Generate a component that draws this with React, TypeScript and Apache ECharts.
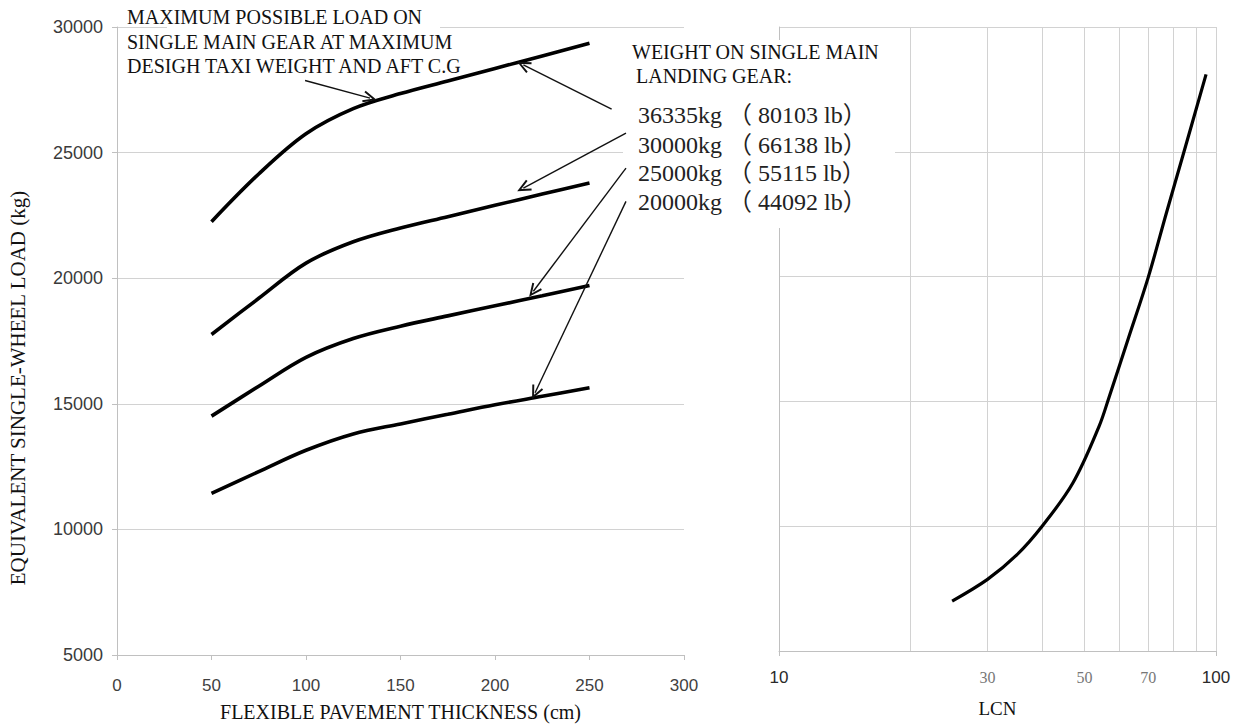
import React, { useEffect, useRef } from "react";
import * as echarts from "echarts";

// ---------- data ----------
const thickness = [50, 75, 100, 125, 150, 175, 200, 225, 250];
const load36335 = [22250, 24150, 25750, 26750, 27350, 27850, 28350, 28850, 29350];
const load30000 = [17760, 19200, 20600, 21450, 22000, 22450, 22900, 23350, 23790];
const load25000 = [14510, 15700, 16850, 17600, 18090, 18500, 18900, 19300, 19710];
const load20000 = [11430, 12300, 13150, 13800, 14200, 14580, 14960, 15300, 15640];

const lcnValues = [24.9, 30, 35, 40, 47, 54, 57, 63, 70, 77, 84, 94.9];
const lcnLoad = [7000, 7870, 8850, 10000, 11720, 14000, 15200, 17520, 19980, 22550, 24850, 28100];

const lcnGridLines = [20, 30, 40, 50, 60, 70, 80, 90, 100];
const lcnTickLabels = [10, 30, 50, 70, 100];

const annotationLines = [
  "MAXIMUM POSSIBLE LOAD ON",
  "SINGLE MAIN GEAR AT MAXIMUM",
  "DESIGH TAXI WEIGHT AND AFT C.G",
];
const legendHeader = ["WEIGHT ON SINGLE MAIN", "LANDING GEAR:"];
const legendRows = [
  "36335kg （ 80103 lb）",
  "30000kg （ 66138 lb）",
  "25000kg （ 55115 lb）",
  "20000kg （ 44092 lb）",
];

// arrows in data coordinates [thickness, load]
const arrowFrom = [
  [99.5, 27870],
  [261.7, 26730],
  [269.3, 25775],
  [269.3, 24385],
  [269.3, 23060],
];
const arrowTo = [
  [133.9, 27170],
  [215.0, 28490],
  [215.0, 23590],
  [220.3, 19480],
  [221.2, 15440],
];

const SERIF = "'Liberation Serif', 'Times New Roman', 'Noto Sans CJK SC', serif";
const SANS = "'Liberation Sans', Arial, sans-serif";
const AXIS_GRAY = "#c0c0c0";
const GRID_GRAY = "#d2d2d2";
const ARROW_PATH = "path://M6,0 L12,13 L10.2,13.8 L6,4.6 L1.8,13.8 L0,13 Z";

export default function App() {
  const ref = useRef<HTMLDivElement>(null);

  useEffect(() => {
    if (!ref.current) return;
    const chart = echarts.init(ref.current, undefined, { renderer: "svg" });

    const curve = (ys: number[]) => thickness.map((x, i) => [x, ys[i]]);
    const lineBase = {
      type: "line",
      xAxisIndex: 0,
      yAxisIndex: 0,
      smooth: 0.35,
      symbol: "none",
      showSymbol: false,
      silent: true,
      z: 3,
      lineStyle: { color: "#000", width: 3.6 },
    };

    const graphics: any[] = [
      { type: "rect", z: 1, shape: { x: 167, y: 20, width: 273, height: 14 }, style: { fill: "#fff" } },
      { type: "rect", z: 1, shape: { x: 623, y: 40, width: 272, height: 188 }, style: { fill: "#fff" } },
    ];
    annotationLines.forEach((t, i) => {
      graphics.push({
        type: "text", z: 10, x: 127, y: 17 + i * 24.5,
        style: { text: t, font: `20px ${SERIF}`, fill: "#111", verticalAlign: "middle", align: "left" },
      });
    });
    legendHeader.forEach((t, i) => {
      graphics.push({
        type: "text", z: 10, x: i === 0 ? 632 : 636, y: 52 + i * 24,
        style: { text: t, font: `20px ${SERIF}`, fill: "#111", verticalAlign: "middle", align: "left" },
      });
    });
    const rowY = [115, 145, 173, 202];
    legendRows.forEach((t, i) => {
      graphics.push({
        type: "text", z: 10, x: 638, y: rowY[i],
        style: { text: t, font: `24px ${SERIF}`, fill: "#222", verticalAlign: "middle", align: "left" },
      });
    });
    graphics.push({
      type: "text", z: 10, x: 18, y: 388, rotation: Math.PI / 2,
      style: {
        text: "EQUIVALENT SINGLE-WHEEL LOAD (kg)", font: `21px ${SERIF}`, fill: "#111",
        verticalAlign: "middle", align: "center",
      },
    });

    chart.setOption({
      animation: false,
      backgroundColor: "#fff",
      grid: [
        { left: 117, top: 27, width: 567, height: 629 },
        { left: 779, top: 27, width: 437, height: 624 },
      ],
      xAxis: [
        {
          type: "value", gridIndex: 0, min: 0, max: 300, interval: 50,
          axisLine: { show: true, lineStyle: { color: AXIS_GRAY } },
          axisTick: { show: true, length: 5, lineStyle: { color: AXIS_GRAY } },
          axisLabel: { margin: 22, fontSize: 17, color: "#3f3f3f", fontFamily: SANS },
          splitLine: { show: false },
          name: "FLEXIBLE PAVEMENT THICKNESS (cm)", nameLocation: "middle", nameGap: 47,
          nameTextStyle: { fontFamily: SERIF, fontSize: 20, color: "#111" },
        },
        {
          type: "log", gridIndex: 1, min: 10, max: 100, logBase: 10,
          axisLine: { show: true, lineStyle: { color: AXIS_GRAY } },
          axisTick: { show: true, length: 5, lineStyle: { color: AXIS_GRAY } },
          axisLabel: {
            margin: 18,
            customValues: lcnTickLabels,
            formatter: (v: number) => {
              const r = Math.round(v);
              return r === 10 || r === 100 ? `{a|${r}}` : `{b|${r}}`;
            },
            rich: {
              a: { fontFamily: SANS, fontSize: 17, color: "#2a2a2a" },
              b: { fontFamily: SERIF, fontSize: 16, color: "#777" },
            },
          },
          splitLine: { show: false },
          name: "LCN", nameLocation: "middle", nameGap: 48,
          nameTextStyle: { fontFamily: SERIF, fontSize: 19, color: "#111" },
        },
      ],
      yAxis: [
        {
          type: "value", gridIndex: 0, min: 5000, max: 30000, interval: 5000,
          axisLine: { show: true, lineStyle: { color: AXIS_GRAY } },
          axisTick: { show: true, length: 5, lineStyle: { color: AXIS_GRAY } },
          axisLabel: {
            margin: 14, fontSize: 18, color: "#3a3a3a", fontFamily: SANS,
            formatter: (v: number) => String(v),
          },
          splitLine: { show: true, lineStyle: { color: GRID_GRAY, width: 1 } },
        },
        {
          type: "value", gridIndex: 1, min: 5000, max: 30000, interval: 5000,
          axisLine: { show: true, lineStyle: { color: AXIS_GRAY } },
          axisTick: { show: false },
          axisLabel: { show: false },
          splitLine: { show: true, lineStyle: { color: GRID_GRAY, width: 1 } },
        },
      ],
      graphic: { elements: graphics },
      series: [
        {
          ...lineBase,
          name: "36335kg",
          data: curve(load36335),
          markLine: {
            silent: true,
            z: 5,
            symbol: ["none", ARROW_PATH],
            symbolSize: [12, 14],
            label: { show: false },
            emphasis: { disabled: true },
            lineStyle: { color: "#111", width: 1.4, type: "solid" },
            data: arrowFrom.map((f, i) => [{ coord: f }, { coord: arrowTo[i] }]),
          },
        },
        { ...lineBase, name: "30000kg", data: curve(load30000) },
        { ...lineBase, name: "25000kg", data: curve(load25000) },
        { ...lineBase, name: "20000kg", data: curve(load20000) },
        {
          type: "line",
          name: "LCN",
          xAxisIndex: 1,
          yAxisIndex: 1,
          smooth: 0.35,
          symbol: "none",
          showSymbol: false,
          silent: true,
          z: 3,
          lineStyle: { color: "#000", width: 3.2 },
          data: lcnValues.map((x, i) => [x, lcnLoad[i]]),
          markLine: {
            silent: true,
            z: 1,
            symbol: ["none", "none"],
            label: { show: false },
            emphasis: { disabled: true },
            lineStyle: { color: GRID_GRAY, width: 1, type: "solid" },
            data: lcnGridLines.map((v) => [{ coord: [v, 5000] }, { coord: [v, 30000] }]),
          },
        },
      ],
    });

    return () => chart.dispose();
  }, []);

  return (
    <div
      ref={ref}
      style={{ position: "absolute", left: 0, top: 0, width: 1243, height: 727, background: "#fff" }}
    />
  );
}
